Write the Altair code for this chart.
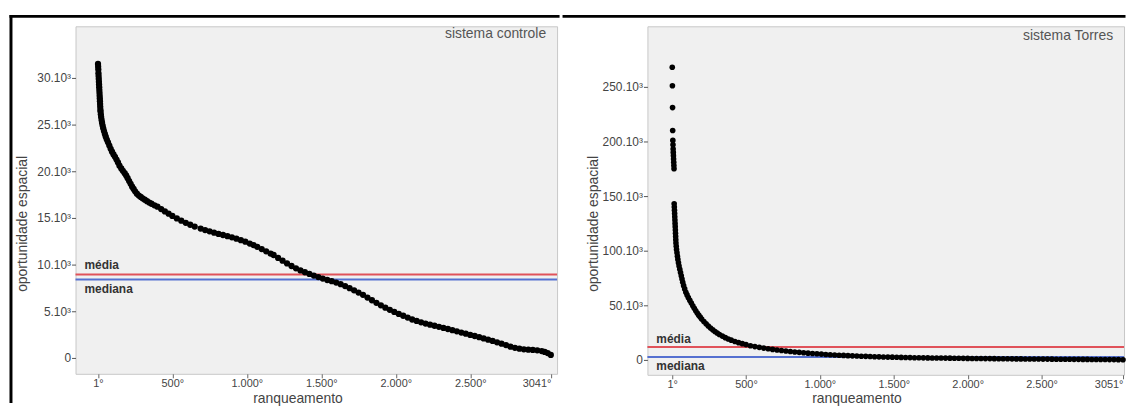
import altair as alt
import pandas as pd

FONT = "Liberation Sans"

# ---------------- data: sistema controle ----------------
left_rank = [1, 2, 3, 4, 5, 6, 7, 8, 9, 10, 11, 12, 13, 14, 15, 16, 17, 18, 20, 22,
             25, 28, 32, 36, 41, 47, 53, 60, 68, 77, 86, 95, 105, 115, 125, 135, 145, 157, 168, 180,
             190, 200, 210, 220, 230, 240, 250, 262, 275, 288, 300, 315, 330, 345, 360, 380, 400, 425, 450, 475,
             500, 530, 560, 590, 620, 650, 690, 720, 750, 780, 810, 840, 870, 900, 930, 960, 990, 1020, 1045, 1070,
             1100, 1130, 1160, 1180, 1210, 1240, 1270, 1300, 1330, 1360, 1390, 1420, 1450, 1480, 1510, 1540, 1570, 1600, 1630, 1660,
             1690, 1720, 1750, 1780, 1810, 1840, 1870, 1900, 1930, 1960, 1990, 2020, 2050, 2080, 2110, 2140, 2170, 2200, 2230, 2260,
             2290, 2320, 2350, 2380, 2410, 2440, 2470, 2500, 2530, 2560, 2590, 2620, 2650, 2680, 2710, 2740, 2770, 2800, 2830, 2860,
             2890, 2920, 2950, 2980, 3000, 3020, 3041]
left_value = [31500, 31200, 30900, 30500, 30200, 29900, 29600, 29300, 29000, 28700, 28400, 28100, 27800, 27500, 27200, 26900, 26600, 26400, 26100, 25800,
              25500, 25200, 24900, 24600, 24300, 24000, 23700, 23400, 23100, 22750, 22400, 22100, 21800, 21550, 21250, 20950, 20600, 20300, 20050, 19800,
              19550, 19250, 18950, 18650, 18350, 18100, 17850, 17600, 17400, 17250, 17100, 16950, 16800, 16650, 16520, 16350, 16200, 15950, 15700, 15450,
              15220, 14950, 14700, 14480, 14270, 14080, 13860, 13700, 13560, 13420, 13290, 13170, 13050, 12920, 12780, 12620, 12450, 12250, 12090, 11900,
              11660, 11420, 11180, 11030, 10720, 10420, 10130, 9850, 9600, 9380, 9180, 9000, 8830, 8660, 8500, 8350, 8220, 8080, 7900, 7700,
              7480, 7250, 7000, 6760, 6470, 6180, 5900, 5640, 5380, 5150, 4930, 4720, 4520, 4330, 4120, 3960, 3820, 3680, 3560, 3450,
              3340, 3220, 3100, 2980, 2850, 2720, 2600, 2470, 2350, 2220, 2090, 1960, 1820, 1680, 1530, 1380, 1210, 1080, 990, 930,
              890, 860, 820, 740, 650, 520, 320]
left_mean = 8936
left_median = 8400

# ---------------- data: sistema Torres ----------------
right_rank = [1, 2, 3, 4, 5, 6, 7, 8, 9, 10, 11, 12, 13, 14, 15, 16, 17, 18, 19, 20,
              21, 22, 23, 24, 25, 26, 28, 30, 33, 36, 39, 43, 47, 52, 57, 62, 67, 72, 78, 85,
              93, 101, 110, 120, 130, 140, 150, 160, 170, 180, 190, 200, 215, 230, 245, 260, 275, 290, 305, 320,
              340, 360, 380, 400, 425, 450, 475, 500, 530, 560, 590, 620, 650, 680, 710, 740, 770, 800, 830, 860,
              890, 920, 950, 980, 1010, 1040, 1070, 1100, 1130, 1160, 1190, 1220, 1250, 1280, 1310, 1340, 1370, 1400, 1430, 1460,
              1490, 1520, 1550, 1580, 1610, 1640, 1670, 1700, 1730, 1760, 1790, 1820, 1850, 1880, 1910, 1940, 1970, 2000, 2030, 2060,
              2090, 2120, 2150, 2180, 2210, 2240, 2270, 2300, 2330, 2360, 2390, 2420, 2450, 2480, 2510, 2540, 2570, 2600, 2630, 2660,
              2690, 2720, 2750, 2780, 2810, 2840, 2870, 2900, 2930, 2960, 2990, 3020, 3051]
right_value = [268000, 251000, 231000, 210000, 201000, 197000, 193000, 190000, 187000, 184000, 181000, 178000, 175000, 143000, 140000, 137000, 134000, 131000, 128000, 125000,
               122000, 119000, 116000, 113000, 110000, 107000, 104000, 101000, 98000, 95000, 92000, 89000, 86000, 83000, 80000, 77000, 74000, 71000, 68000, 65000,
               62000, 59500, 57000, 54500, 52000, 49500, 47200, 45000, 43000, 41000, 39200, 37500, 35200, 33000, 31000, 29200, 27500, 26000, 24600, 23300,
               21800, 20400, 19200, 18100, 16900, 15800, 14900, 14000, 13000, 12200, 11500, 10800, 10200, 9600, 9100, 8600, 8100, 7700, 7300, 6900,
               6500, 6200, 5900, 5600, 5300, 5000, 4750, 4500, 4300, 4100, 3900, 3700, 3550, 3400, 3250, 3100, 2950, 2800, 2700, 2600,
               2500, 2400, 2300, 2200, 2100, 2000, 1950, 1900, 1850, 1800, 1750, 1700, 1650, 1600, 1550, 1500, 1450, 1400, 1350, 1300,
               1260, 1220, 1180, 1140, 1100, 1060, 1020, 980, 940, 900, 870, 840, 810, 780, 750, 720, 690, 660, 630, 600,
               570, 540, 510, 480, 450, 420, 390, 360, 330, 300, 270, 240, 200]
right_mean = 11800
right_median = 2700

# ---------------- ticks ----------------
left_xticks = [1, 500, 1000, 1500, 2000, 2500, 3041]
left_xlabels = ["1°", "500°", "1.000°", "1.500°", "2.000°", "2.500°", "3041°"]
right_xticks = [1, 500, 1000, 1500, 2000, 2500, 3051]
right_xlabels = ["1°", "500°", "1.000°", "1.500°", "2.000°", "2.500°", "3051°"]
left_yticks = [0, 5000, 10000, 15000, 20000, 25000, 30000]
left_ylabels = ["0", "5.10³", "10.10³", "15.10³", "20.10³", "25.10³", "30.10³"]
right_yticks = [0, 50000, 100000, 150000, 200000, 250000]
right_ylabels = ["0", "50.10³", "100.10³", "150.10³", "200.10³", "250.10³"]

assert len(left_rank) == len(left_value)
assert len(right_rank) == len(right_value)


def label_expr(ticks, labels):
    expr = "''"
    for t, l in reversed(list(zip(ticks, labels))):
        expr = f"datum.value == {t} ? '{l}' : {expr}"
    return expr


ONE = pd.DataFrame({"t": [""]})


def text_layer(x, y, text, size, color, align="left", weight="normal", angle=0):
    return alt.Chart(pd.DataFrame({"t": [text]})).mark_text(
        align=align, baseline="middle", fontSize=size, font=FONT, color=color,
        fontWeight=weight, angle=angle
    ).encode(x=alt.value(x), y=alt.value(y), text="t:N")


def hline(x1, x2, y):
    return alt.Chart(ONE).mark_rule(color="black", strokeWidth=3, strokeCap="square").encode(
        x=alt.value(x1), x2=alt.value(x2), y=alt.value(y))


def vline(x, y1, y2):
    return alt.Chart(ONE).mark_rule(color="black", strokeWidth=3, strokeCap="square").encode(
        x=alt.value(x), y=alt.value(y1), y2=alt.value(y2))


def panel(ranks, values, mean, median, xticks, xlabels, yticks, ylabels,
          xdom, ydom, width, height, name, dot_size, name_y, media_y, mediana_y,
          ytitle_x, xtitle_x, xtitle_y, lines):
    df = pd.DataFrame({"rank": ranks, "value": values})
    x = alt.X("rank:Q", scale=alt.Scale(domain=xdom, nice=False, zero=False),
              axis=alt.Axis(values=xticks, labelExpr=label_expr(xticks, xlabels), title=None,
                            grid=False, domain=False, tickSize=4, tickColor="#666",
                            labelFontSize=11, labelColor="#444", labelPadding=0,
                            labelFont=FONT, labelFlush=9))
    y = alt.Y("value:Q", scale=alt.Scale(domain=ydom, nice=False, zero=False),
              axis=alt.Axis(values=yticks, labelExpr=label_expr(yticks, ylabels), title=None,
                            grid=False, domain=False, tickSize=4, tickColor="#555",
                            labelFontSize=12, labelColor="#444", labelPadding=1,
                            labelFont=FONT))
    mean_rule = alt.Chart(pd.DataFrame({"value": [mean]})).mark_rule(
        color="#e0525a", strokeWidth=2).encode(y=y)
    median_rule = alt.Chart(pd.DataFrame({"value": [median]})).mark_rule(
        color="#5570d0", strokeWidth=2).encode(y=y)
    points = alt.Chart(df).mark_circle(color="black", size=dot_size, opacity=1).encode(x=x, y=y)
    layers = [mean_rule, median_rule, points,
              text_layer(width - 11, name_y, name, 14, "#555", align="right"),
              text_layer(9, media_y, "média", 12, "#333", weight="bold"),
              text_layer(9, mediana_y, "mediana", 12, "#333", weight="bold"),
              text_layer(ytitle_x, 199, "oportunidade espacial", 14, "#444", align="center", angle=270),
              text_layer(xtitle_x, xtitle_y, "ranqueamento", 14, "#444", align="center")]
    layers += lines
    return alt.layer(*layers).properties(width=width, height=height)


left = panel(left_rank, left_value, left_mean, left_median,
             left_xticks, left_xlabels, left_yticks, left_ylabels,
             [-150, 3083], [-1700, 35530], 485, 350, "sistema controle", 40,
             8, 240, 265, -53, 224, 375,
             [hline(-65, 486, -10), vline(-65, -10, 378)])

right = panel(right_rank, right_value, right_mean, right_median,
              right_xticks, right_xlabels, right_yticks, right_ylabels,
              [-167, 3058], [-13640, 305450], 480, 351, "sistema Torres", 32,
              10, 315, 342, -54, 211, 375,
              [hline(-84, 480, -10)])

chart = alt.hconcat(left, right, spacing=0).properties(
    padding={"top": 4, "left": 0, "right": 0, "bottom": 0},
    background="white",
).configure_view(fill="#f0f0f0", stroke="#c8c8c8", strokeWidth=1)

chart.save("out.html", embed_options={"renderer": "svg", "actions": False})
